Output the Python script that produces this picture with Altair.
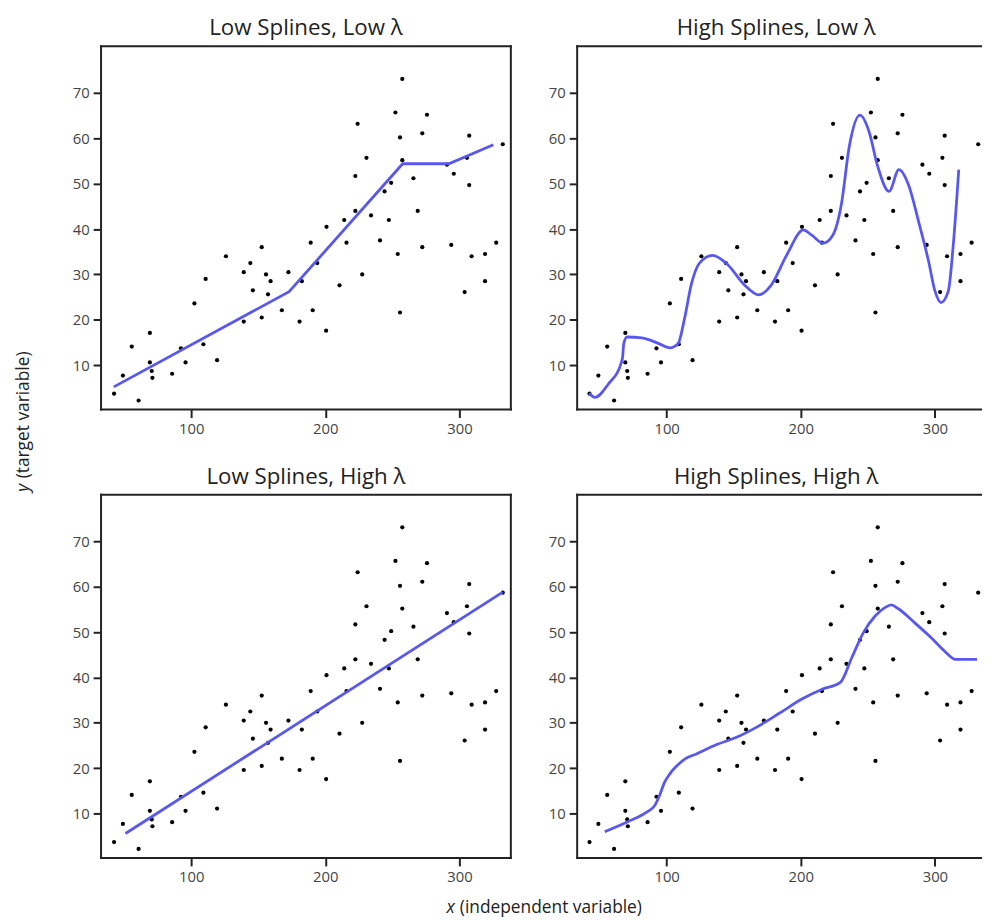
import altair as alt
import pandas as pd

# ---- data ----
x_vals = [42.5, 49.1, 60.8, 55.7, 69.2, 69.2, 70.6, 71.1, 85.8, 92.4, 95.8, 102.4, 109.1, 110.8,
          119.3, 125.9, 139.2, 139.2, 144.1, 146.0, 152.6, 152.6, 155.8, 159.2, 157.3, 167.6,
          172.5, 180.8, 182.5, 189.1, 190.6, 194.0, 200.6, 200.9, 210.6, 214.1, 215.8, 222.4,
          222.4, 224.1, 227.5, 230.7, 234.1, 240.8, 244.2, 247.4, 249.1, 252.3, 254.0, 255.7,
          255.7, 257.4, 257.4, 265.7, 268.9, 272.3, 272.3, 275.8, 290.7, 293.9, 295.8, 303.9,
          305.6, 307.3, 307.3, 309.1, 319.1, 319.1, 327.4, 332.3]
y_vals = [3.7, 7.7, 2.2, 14.1, 17.1, 10.6, 8.7, 7.2, 8.1, 13.7, 10.6, 23.6, 14.6, 29.0,
          11.1, 34.0, 30.5, 19.6, 32.5, 26.5, 36.0, 20.5, 30.0, 28.5, 25.6, 22.1,
          30.5, 19.6, 28.5, 37.0, 22.1, 32.5, 17.6, 40.5, 27.6, 42.0, 37.0, 44.0,
          51.7, 63.2, 30.0, 55.7, 43.0, 37.5, 48.3, 42.0, 50.2, 65.7, 34.5, 21.6,
          60.2, 73.1, 55.2, 51.2, 44.0, 61.1, 36.0, 65.2, 54.2, 36.5, 52.2, 26.1,
          55.7, 60.6, 49.7, 34.0, 34.5, 28.5, 37.0, 58.7]

# Low splines, low lambda (piecewise linear)
ll_x = [42.3, 173.0, 257.7, 292.1, 325.3]
ll_y = [5.2, 26.2, 54.4, 54.4, 58.6]

# High splines, low lambda (wiggly)
hl_x = [42.2, 46.6, 57.0, 65.6, 67.2, 68.0, 70.5, 81.6, 93.8, 102.4, 108.5, 113.5, 118.4,
        124.5, 134.3, 145.4, 157.7, 168.8, 177.4, 189.6, 201.9, 208.0, 216.7, 224.0, 230.2,
        236.3, 244.1, 251.1, 257.2, 265.8, 273.2, 280.5, 287.9, 295.3, 300.1, 304.6, 310.0,
        313.7, 317.8]
hl_y = [3.8, 2.9, 6.0, 10.0, 11.8, 14.7, 16.2, 16.0, 14.8, 13.8, 14.7, 20.5, 27.8,
        32.5, 34.2, 32.2, 27.8, 25.5, 27.4, 34.3, 39.8, 38.7, 36.9, 38.7, 45.3,
        58.4, 65.1, 61.3, 54.0, 48.3, 53.1, 49.6, 41.6, 32.9, 26.3, 23.8, 26.3,
        36.5, 53.1]

# Low splines, high lambda (straight line)
lh_x = [51.0, 332.3]
lh_y = [5.6, 58.8]

# High splines, high lambda
hh_x = [53.8, 71.0, 85.7, 91.2, 95.0, 98.0, 102.5, 107.9, 114.0, 122.6, 137.3, 152.1,
        166.8, 184.0, 201.2, 216.0, 229.5, 238.1, 246.7, 255.3, 262.7, 267.6, 272.5,
        284.8, 297.1, 306.9, 315.5, 331.4]
hh_y = [6.0, 8.2, 10.4, 11.8, 14.2, 16.6, 18.8, 20.6, 22.1, 23.2, 25.2, 26.8,
        29.0, 32.1, 35.3, 37.4, 38.9, 44.4, 49.9, 53.5, 55.4, 56.0, 55.2,
        52.1, 48.8, 45.9, 44.0, 44.0]

titles = ["Low Splines, Low λ", "High Splines, Low λ",
          "Low Splines, High λ", "High Splines, High λ"]
x_ticks = [100, 200, 300]
y_ticks = [10, 20, 30, 40, 50, 60, 70]

# ---- styling ----
FONT = "Open Sans"
FRAME = "#222222"
LINE = "#5858F0"
H = 367
W_LEFT = 414
W_RIGHT = 402
PX_PER_UNIT = 1.355
X_DOM_LEFT = [32.8, 32.8 + W_LEFT / PX_PER_UNIT]
X_DOM_RIGHT = [33.3, 33.3 + W_RIGHT / PX_PER_UNIT]
Y_DOM = [0.2, 80.3]

pts_df = pd.DataFrame({"x": x_vals, "y": y_vals})
one = pd.DataFrame({"k": [0]})


def panel(title, lx, ly, width, xdom, right_open, interp, extras=()):
    xs = alt.Scale(domain=xdom, nice=False, zero=False)
    ys = alt.Scale(domain=Y_DOM, nice=False, zero=False)
    pts = alt.Chart(pts_df).mark_circle(size=18, color="black", opacity=1).encode(
        x=alt.X("x:Q", scale=xs, title=None,
                axis=alt.Axis(values=x_ticks, format="d")),
        y=alt.Y("y:Q", scale=ys, title=None,
                axis=alt.Axis(values=y_ticks, format="d")),
    )
    line = alt.Chart(pd.DataFrame({"x": lx, "y": ly})).mark_line(
        color=LINE, strokeWidth=2.8, interpolate=interp
    ).encode(x="x:Q", y="y:Q")

    ext = width + 6 if right_open else width
    rule_kw = dict(color=FRAME, strokeWidth=2, strokeCap="square")
    frame = [
        alt.Chart(one).mark_rule(**rule_kw).encode(
            x=alt.value(0), x2=alt.value(ext), y=alt.value(0)),
        alt.Chart(one).mark_rule(**rule_kw).encode(
            x=alt.value(0), x2=alt.value(ext), y=alt.value(H)),
        alt.Chart(one).mark_rule(**rule_kw).encode(
            x=alt.value(0), y=alt.value(0), y2=alt.value(H)),
    ]
    if not right_open:
        frame.append(alt.Chart(one).mark_rule(**rule_kw).encode(
            x=alt.value(width), y=alt.value(0), y2=alt.value(H)))

    return alt.layer(pts, line, *frame, *extras).properties(
        width=width, height=H,
        title=alt.Title(title, font=FONT, fontSize=22.5, fontWeight="normal",
                        color="#222222", offset=5, anchor="middle", frame="group"),
    )


# shared axis titles drawn as text (italic variable letter + normal text)
txt_kw = dict(font=FONT, fontSize=17.5, color="#222222", baseline="middle", align="left")
y_title = [
    alt.Chart(one).mark_text(text="y", angle=270, fontStyle="italic", **txt_kw).encode(
        x=alt.value(-78), y=alt.value(450)),
    alt.Chart(one).mark_text(text="(target variable)", angle=270, **txt_kw).encode(
        x=alt.value(-78), y=alt.value(436.5)),
]
x_title = [
    alt.Chart(one).mark_text(text="x", fontStyle="italic", **txt_kw).encode(
        x=alt.value(349), y=alt.value(418)),
    alt.Chart(one).mark_text(text="(independent variable)", **txt_kw).encode(
        x=alt.value(362.5), y=alt.value(418)),
]

tl = panel(titles[0], ll_x, ll_y, W_LEFT, X_DOM_LEFT, False, "linear", y_title)
tr = panel(titles[1], hl_x, hl_y, W_RIGHT, X_DOM_RIGHT, True, "monotone")
bl = panel(titles[2], lh_x, lh_y, W_LEFT, X_DOM_LEFT, False, "linear", x_title)
br = panel(titles[3], hh_x, hh_y, W_RIGHT, X_DOM_RIGHT, True, "monotone")

chart = alt.concat(
    tl, tr, bl, br, columns=2,
    spacing={"row": 86, "column": 67}, bounds="flush",
).properties(
    padding={"left": 6, "top": 4, "right": 0, "bottom": 0},
).configure_view(
    stroke="transparent"
).configure_axis(
    domain=False, grid=False,
    ticks=True, tickColor=FRAME, tickWidth=2, tickSize=8,
    labelFont=FONT, labelFontSize=15, labelColor="#444444", labelPadding=4,
)

chart.save("out.html", embed_options={"renderer": "svg", "actions": False})
